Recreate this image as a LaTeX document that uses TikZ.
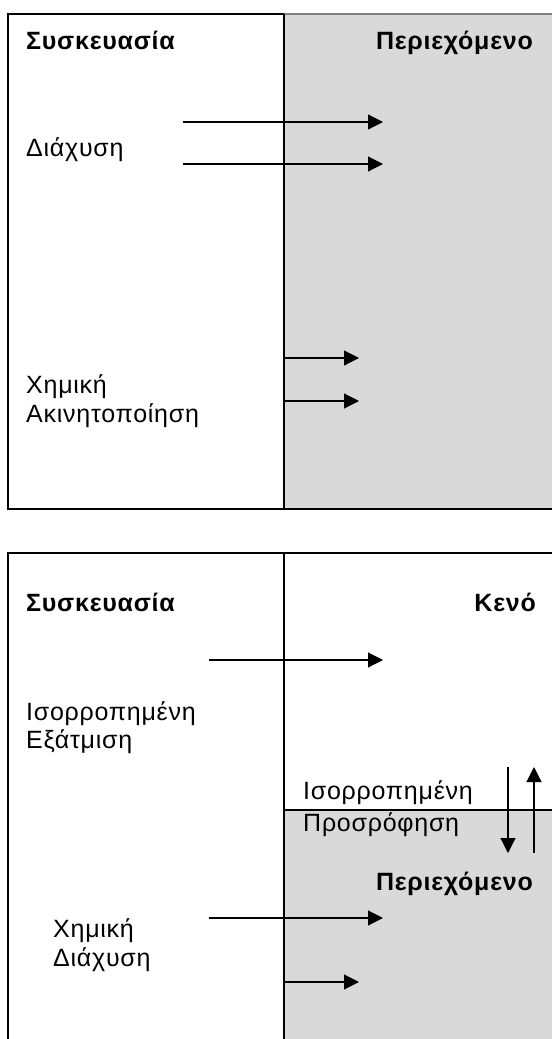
\documentclass[tikz,border=0pt]{standalone}
\usepackage{fontspec}
\setmainfont{Liberation Sans}[LetterSpace=3]
\usetikzlibrary{arrows.meta}
\definecolor{fillgray}{HTML}{D9D9D9}
\begin{document}
\begin{tikzpicture}[x=1pt,y=-1pt,
  frame/.style={line width=1.2pt},
  flow/.style={line width=1.2pt,-{Triangle[length=15pt,width=15pt]}},
  % multi-line labels are placed by the baseline of their last line
  lbl/.style={anchor=base west,inner sep=0pt,align=left,
    font=\fontsize{25}{29}\selectfont},
  hdr/.style={anchor=base east,inner sep=0pt,
    font=\fontsize{25}{29}\selectfont\bfseries}]
\useasboundingbox (0,0) rectangle (552,1039);
\fill[white] (0,0) rectangle (552,1039);

% ---- upper panel: packaging / contents
\fill[fillgray] (284,14) rectangle (552,509);
\draw[frame] (552,509) -- (8,509) -- (8,14) -- (284,14);
\draw[frame,gray] (284,14) -- (552,14);
\draw[frame] (284,14) -- (284,509);

\node[hdr,anchor=base west] (pkgA) at (26,49) {Συσκευασία};
\node[hdr] (contA) at (533,49) {Περιεχόμενο};
\node[lbl] (diff) at (26,156) {Διάχυση};
\node[lbl] (immob) at (26,422) {Χημική\\Ακινητοποίηση};

\coordinate (a1s) at (183,122); \coordinate (a1e) at (383,122);
\coordinate (a2s) at (183,164); \coordinate (a2e) at (383,164);
\coordinate (a3s) at (284,358); \coordinate (a3e) at (359,358);
\coordinate (a4s) at (284,401); \coordinate (a4e) at (359,401);
\draw[flow] (a1s) -- (a1e);
\draw[flow] (a2s) -- (a2e);
\draw[flow] (a3s) -- (a3e);
\draw[flow] (a4s) -- (a4e);

% ---- lower panel: packaging / headspace / contents
\fill[fillgray] (284,810) rectangle (552,1039);
\draw[frame] (8,1039) -- (8,553) -- (552,553);
\draw[frame] (284,553) -- (284,1039);
\draw[frame] (284,810) -- (552,810);

\node[hdr,anchor=base west] (pkgB) at (26,611) {Συσκευασία};
\node[hdr] (space) at (536,611) {Κενό};
\node[lbl,font=\fontsize{25}{28}\selectfont] (evap) at (26,748) {Ισορροπημένη\\Εξάτμιση};
\node[lbl,font=\fontsize{25}{32}\selectfont] (sorp) at (303,831) {Ισορροπημένη\\Προσρόφηση};
\node[hdr] (contB) at (533,890) {Περιεχόμενο};
\node[lbl,font=\fontsize{25}{29}\selectfont] (chem) at (53,966) {Χημική\\Διάχυση};

\coordinate (b1s) at (209,660); \coordinate (b1e) at (383,660);
\coordinate (b2s) at (209,918); \coordinate (b2e) at (383,918);
\coordinate (b3s) at (284,982); \coordinate (b3e) at (359,982);
\coordinate (d1s) at (508,767); \coordinate (d1e) at (508,853);
\coordinate (u1s) at (534,853); \coordinate (u1e) at (534,767);
\draw[flow] (b1s) -- (b1e);
\draw[flow] (b2s) -- (b2e);
\draw[flow] (b3s) -- (b3e);
\draw[flow] (d1s) -- (d1e);
\draw[flow] (u1s) -- (u1e);
\end{tikzpicture}
\end{document}
